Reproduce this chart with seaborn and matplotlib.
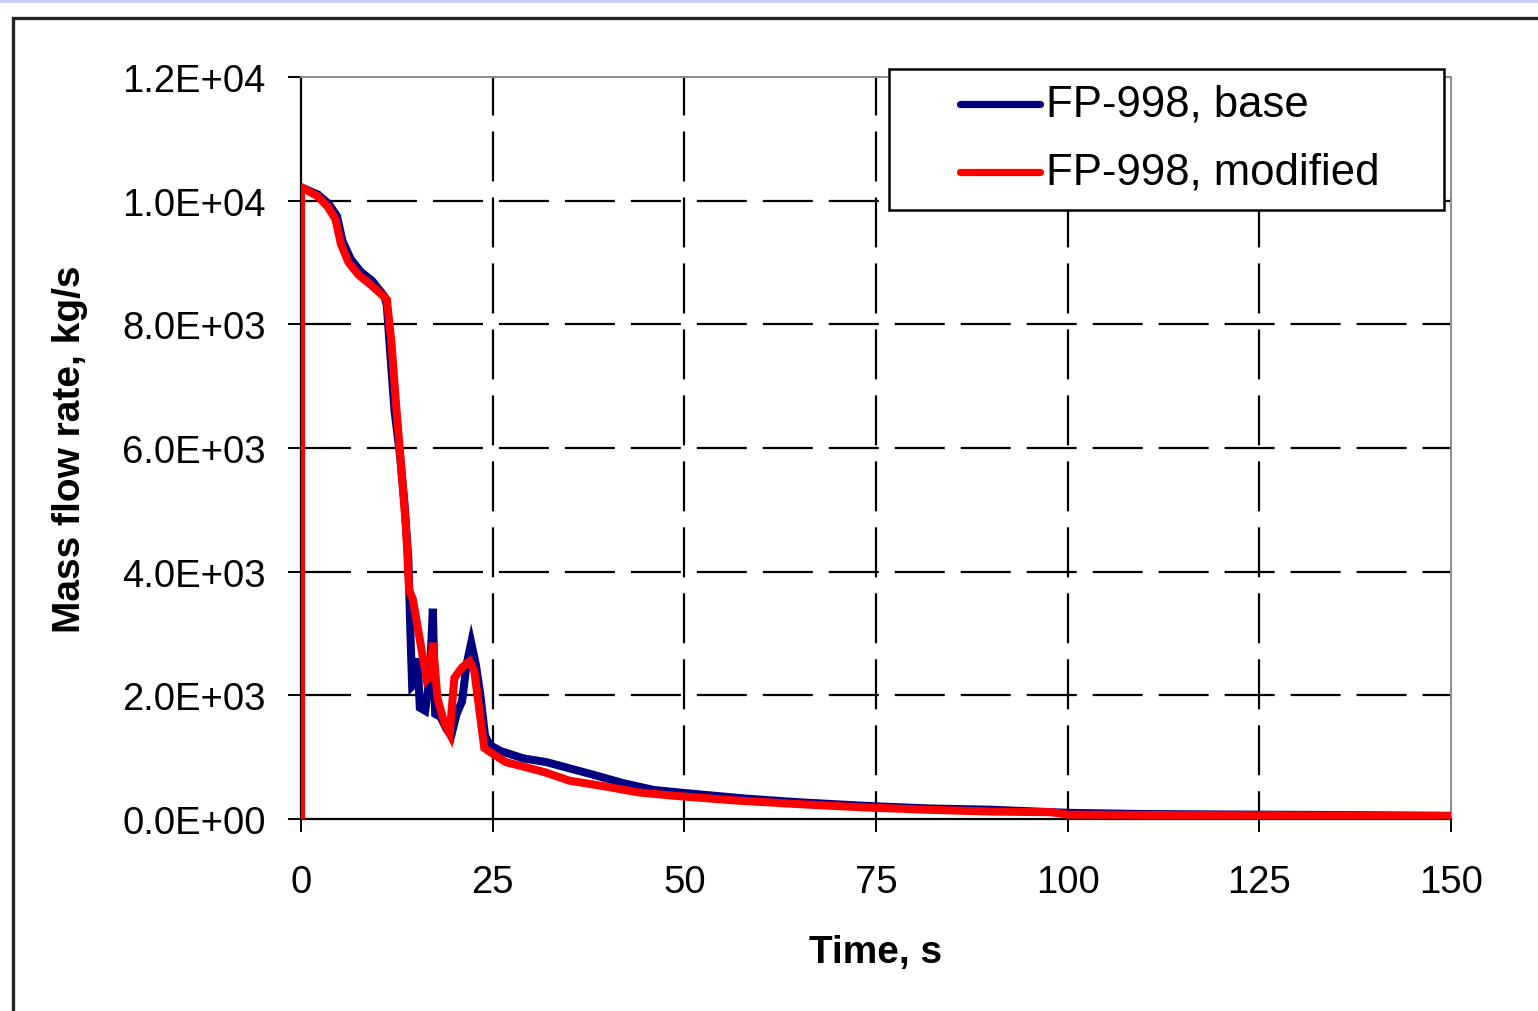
import matplotlib
matplotlib.use("Agg")
import matplotlib.pyplot as plt
from matplotlib.patches import Rectangle
from matplotlib.lines import Line2D
import seaborn as sns
import pandas as pd

# ---------------- data ----------------
t_base = [0, 0, 0.3, 2.2, 3.6, 4.7, 5.4, 6.5, 7.8, 9.3, 10.9, 11.2, 11.6, 12.2, 12.9,
          13.5, 14.0, 14.3, 14.5, 14.9, 15.2, 15.5, 16.2, 16.8, 17.2, 17.5, 18.2, 19.0,
          19.6, 20.3, 21.0, 21.6, 22.2, 22.8, 23.4, 24.0, 24.6, 26, 29, 32, 35, 38,
          42, 46, 50, 58, 65, 74, 82, 90, 100, 110, 125, 134, 150]
v_base = [0, 10150, 10200, 10100, 9950, 9750, 9350, 9050, 8850, 8700, 8450, 8300, 7600,
          6600, 5900, 5100, 4200, 2900, 2150, 2200, 2600, 1800, 1750, 2300, 3400, 1700,
          1650, 1450, 1350, 1700, 1900, 2500, 2850, 2500, 2000, 1350, 1200, 1100, 980,
          920, 820, 720, 580, 470, 420, 330, 270, 210, 170, 150, 100, 80, 70, 65, 50]

t_mod = [0, 0, 0.3, 2.2, 3.5, 4.5, 5.2, 6.2, 7.5, 9.0, 10.8, 11.2, 11.8, 12.4, 13.0,
         13.7, 14.1, 14.6, 15.5, 16.4, 16.8, 17.2, 17.8, 18.7, 19.4, 20.0, 21.0, 22.0,
         22.6, 23.9, 24.7, 26.7, 28.6, 31.7, 35, 40, 44, 48.3, 56.6, 65, 73, 81.6, 90,
         98, 100, 110, 125, 135, 150]
v_mod = [0, 10150, 10200, 10070, 9900, 9700, 9300, 9000, 8800, 8650, 8450, 8400, 7700,
         6700, 5800, 4700, 3700, 3550, 2900, 2250, 2300, 2850, 1950, 1550, 1380, 2280,
         2450, 2550, 2400, 1150, 1080, 920, 860, 760, 620, 520, 430, 380, 300, 240, 190,
         150, 120, 110, 70, 65, 60, 55, 50]

series_names = ["FP-998, base", "FP-998, modified"]
series_colors = ["#000080", "#ff0000"]

x_ticks = [0, 25, 50, 75, 100, 125, 150]
y_ticks = [0, 2000, 4000, 6000, 8000, 10000, 12000]
y_tick_labels = ["0.0E+00", "2.0E+03", "4.0E+03", "6.0E+03", "8.0E+03", "1.0E+04", "1.2E+04"]
x_label = "Time, s"
y_label = "Mass flow rate, kg/s"

# ---------------- figure ----------------
sns.set_style("white")
plt.rcParams["font.family"] = ["Liberation Sans", "DejaVu Sans"]
plt.rcParams["lines.scale_dashes"] = False
plt.rcParams["text.color"] = "black"
plt.rcParams["axes.labelcolor"] = "black"
plt.rcParams["xtick.color"] = "black"
plt.rcParams["ytick.color"] = "black"

W, H = 1538, 1012
fig = plt.figure(figsize=(W / 100, H / 100), dpi=100)
fig.patch.set_facecolor("white")

def fx(x):
    return x / W

def fy(y):
    return 1 - y / H

# top lavender strip and outer chart frame
fig.patches.append(Rectangle((0, fy(4)), 1, 4 / H, transform=fig.transFigure,
                             facecolor="#c8d0fa", edgecolor="none", zorder=0))
fig.lines.append(Line2D([fx(13), fx(13), 1.0], [0, fy(19), fy(19)],
                        transform=fig.transFigure, color="#222222", lw=2.4,
                        solid_joinstyle="miter"))

ax_l, ax_r, ax_t, ax_b = 301, 1451, 78, 820
ax = fig.add_axes([fx(ax_l), fy(ax_b), (ax_r - ax_l) / W, (ax_b - ax_t) / H])
ax.set_facecolor("white")

df = pd.concat([
    pd.DataFrame({"t": t_base, "v": v_base, "series": series_names[0]}),
    pd.DataFrame({"t": t_mod, "v": v_mod, "series": series_names[1]}),
], ignore_index=True)

# grid (dashed black), below the data
for yv in y_ticks[1:-1]:
    ax.axhline(yv, color="black", lw=1.6, ls=(0, (36, 11.5)), zorder=1)
for xv in x_ticks[1:-1]:
    ax.axvline(xv, color="black", lw=1.6, ls=(16, (36, 11.5)), zorder=1)

sns.lineplot(data=df, x="t", y="v", hue="series", palette=dict(zip(series_names, series_colors)),
             sort=False, estimator=None, units="series", lw=5.8, ax=ax, legend=False, zorder=3)
for ln in ax.get_lines()[-2:]:
    ln.set_solid_joinstyle("miter")
    ln.set_solid_capstyle("butt")

ax.set_xlim(0, 150)
ax.set_ylim(0, 12000)
ax.set_xticks(x_ticks)
ax.set_xticklabels([str(v) for v in x_ticks])
ax.set_yticks(y_ticks)
ax.set_yticklabels(y_tick_labels)

for s in ["left", "bottom"]:
    ax.spines[s].set_color("black")
    ax.spines[s].set_linewidth(1.6)
for s in ["top", "right"]:
    ax.spines[s].set_color("#8a8a8a")
    ax.spines[s].set_linewidth(1.4)
    ax.spines[s].set_visible(True)

ax.tick_params(axis="y", direction="out", length=9.5, width=1.4, color="black",
               pad=16, labelsize=27.5, left=True, labelcolor="black")
ax.tick_params(axis="x", direction="out", length=9.5, width=1.4, color="black",
               pad=23, labelsize=27.5, bottom=True, labelcolor="black")

ax.set_xlabel(x_label, fontsize=28, fontweight="bold", color="black")
ax.set_ylabel(y_label, fontsize=28, fontweight="bold", color="black")
ax.xaxis.set_label_coords(0.5, (ax_b - 953) / (ax_b - ax_t))
ax.xaxis.label.set_va("center")
ax.yaxis.set_label_coords((70 - ax_l) / (ax_r - ax_l), 0.5)
ax.yaxis.label.set_va("center")

# legend box
lx0, lx1, ly0, ly1 = 889, 1444, 70, 211
fig.patches.append(Rectangle((fx(lx0), fy(ly1)), (lx1 - lx0) / W, (ly1 - ly0) / H,
                             transform=fig.transFigure, facecolor="white",
                             edgecolor="black", lw=1.8, zorder=10))
for name, col, yy in zip(series_names, series_colors, [105, 173]):
    fig.lines.append(Line2D([fx(960), fx(1040)], [fy(yy), fy(yy)], transform=fig.transFigure,
                            color=col, lw=5.2, solid_capstyle="round", zorder=11))
    fig.text(fx(1046), fy(yy), name, fontsize=31.5, va="center", ha="left", zorder=12,
             color="black")

fig.savefig("out.png", dpi=100)
